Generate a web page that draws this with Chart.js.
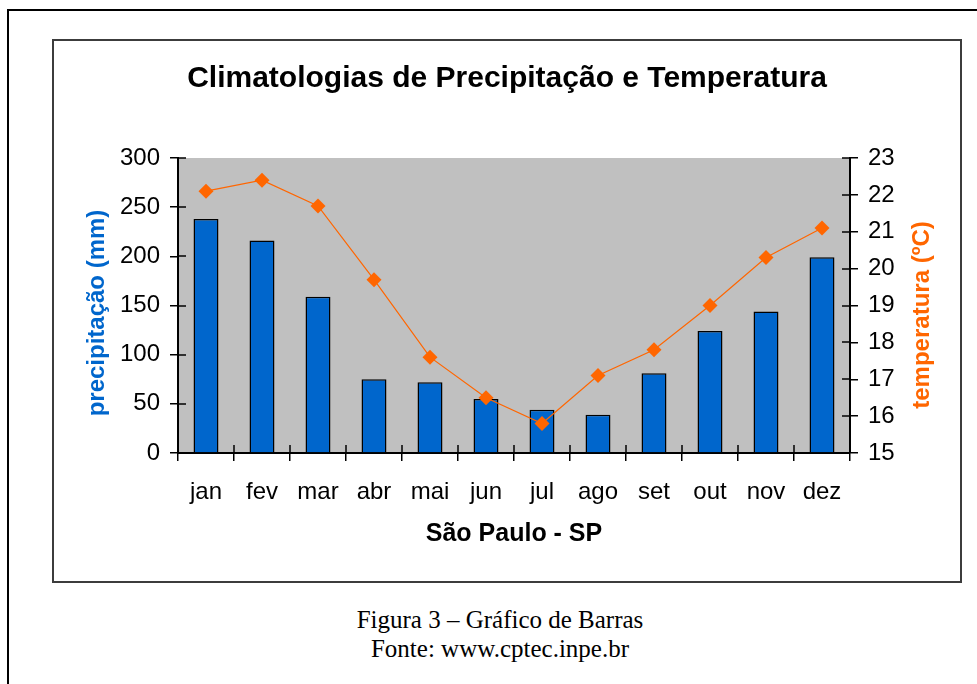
<!DOCTYPE html>
<html>
<head>
<meta charset="utf-8">
<script src="https://cdn.jsdelivr.net/npm/chart.js@4"></script>
<style>
  body { margin: 0; background: #fff; width: 977px; height: 684px; overflow: hidden; position: relative; }
  #outer { position: absolute; left: 7px; top: 9px; width: 1000px; height: 700px; border: 2px solid #000; box-sizing: border-box; }
  #box { position: absolute; left: 52px; top: 39px; width: 910px; height: 544px; border: 2px solid #3c3c3c; box-sizing: border-box; }
  #myChart { position: absolute; left: 0; top: 0; }
  #caption { position: absolute; left: 300px; top: 605px; width: 400px; text-align: center;
    font-family: "Liberation Serif", "Times New Roman", serif; font-size: 25px; line-height: 29px; color: #000; }
</style>
</head>
<body>
<div id="outer"></div>
<div id="box"><canvas id="myChart" width="906" height="540"></canvas></div>
<div id="caption">Figura 3 – Gráfico de Barras<br>Fonte: www.cptec.inpe.br</div>
<script>
const months = ['jan', 'fev', 'mar', 'abr', 'mai', 'jun', 'jul', 'ago', 'set', 'out', 'nov', 'dez']
const precipitation = [238, 216, 159, 75, 72, 55, 44, 39, 81, 124, 144, 199]
const temperature = [22.1, 22.4, 21.7, 19.7, 17.6, 16.5, 15.8, 17.1, 17.8, 19.0, 20.3, 21.1]

const canvas = document.getElementById('myChart')
const font = '"Liberation Sans", Arial, sans-serif'

// grey plot background
const plotBg = {
    id: 'plotBg',
    beforeDraw(chart) {
        const { ctx, chartArea: a } = chart
        ctx.save()
        ctx.fillStyle = '#c0c0c0'
        ctx.fillRect(a.left, a.top, a.right - a.left, a.bottom - a.top)
        ctx.restore()
    }
}

// excel style "cross" ticks: the inside half + the rotated axis titles
const extras = {
    id: 'extras',
    afterDatasetsDraw(chart) {
        const { ctx, chartArea: a, scales } = chart
        ctx.save()
        ctx.strokeStyle = '#000'
        ctx.lineWidth = 1.5
        ctx.beginPath()
        scales.y.ticks.forEach(t => {
            const py = Math.round(scales.y.getPixelForValue(t.value))
            ctx.moveTo(a.left, py); ctx.lineTo(a.left + 8, py)
        })
        scales.y1.ticks.forEach(t => {
            const py = Math.round(scales.y1.getPixelForValue(t.value))
            ctx.moveTo(a.right - 8, py); ctx.lineTo(a.right, py)
        })
        const step = (a.right - a.left) / months.length
        for (let i = 0; i <= months.length; i++) {
            const px = Math.round(a.left + i * step)
            ctx.moveTo(px, a.bottom - 8); ctx.lineTo(px, a.bottom)
        }
        ctx.stroke()

        ctx.font = 'bold 24px ' + font
        ctx.textAlign = 'center'
        ctx.textBaseline = 'middle'
        ctx.fillStyle = '#0066cc'
        ctx.translate(43, 272)
        ctx.rotate(-Math.PI / 2)
        ctx.fillText('precipitação (mm)', 0, 0)
        ctx.restore()

        ctx.save()
        ctx.font = 'bold 24px ' + font
        ctx.textAlign = 'center'
        ctx.textBaseline = 'middle'
        ctx.fillStyle = '#ff6600'
        ctx.translate(868, 274)
        ctx.rotate(-Math.PI / 2)
        ctx.fillText('temperatura (ºC)', 0, 0)
        ctx.restore()
    }
}

const config = {
    data: {
        labels: months,
        datasets: [{
            type: 'line',
            label: 'temperatura',
            data: temperature,
            yAxisID: 'y1',
            borderColor: '#ff6600',
            borderWidth: 1.2,
            pointStyle: 'rectRot',
            pointRadius: 7.5,
            pointBackgroundColor: '#ff6600',
            pointBorderWidth: 0,
            order: 0
        }, {
            type: 'bar',
            label: 'precipitação',
            data: precipitation,
            yAxisID: 'y',
            backgroundColor: '#0066cc',
            borderColor: '#000',
            borderWidth: 1.5,
            categoryPercentage: 1,
            barPercentage: 0.446,
            order: 1
        }]
    },
    options: {
        responsive: false,
        animation: false,
        layout: { padding: 0 },
        plugins: {
            legend: { display: false },
            tooltip: { enabled: false },
            title: {
                display: true,
                text: 'Climatologias de Precipitação e Temperatura',
                color: '#000',
                font: { family: font, size: 30, weight: 'bold' },
                padding: { top: 20, bottom: 61 }
            }
        },
        scales: {
            x: {
                grid: { offset: true, drawOnChartArea: false, tickLength: 8, color: '#000', lineWidth: 1.5 },
                border: { color: '#000', width: 2 },
                ticks: { color: '#000', font: { family: font, size: 24 }, padding: 17, maxRotation: 0 },
                title: {
                    display: true, text: 'São Paulo - SP', color: '#000',
                    font: { family: font, size: 25, weight: 'bold' },
                    padding: { top: 0, bottom: 32 }
                },
                afterFit: s => { s.height = 128 }
            },
            y: {
                position: 'left',
                min: 0, max: 300,
                grid: { drawOnChartArea: false, tickLength: 8, color: '#000', lineWidth: 1.5 },
                border: { color: '#000', width: 2 },
                ticks: { stepSize: 50, color: '#000', font: { family: font, size: 24 }, padding: 10 },
                afterFit: s => { s.width = 124 }
            },
            y1: {
                position: 'right',
                min: 15, max: 23,
                grid: { drawOnChartArea: false, tickLength: 8, color: '#000', lineWidth: 1.5 },
                border: { color: '#000', width: 2 },
                ticks: { stepSize: 1, color: '#000', font: { family: font, size: 24 }, padding: 10 },
                afterFit: s => { s.width = 110 }
            }
        }
    },
    plugins: [plotBg, extras]
}

const myChart = new Chart(canvas, config)
</script>
</body>
</html>
